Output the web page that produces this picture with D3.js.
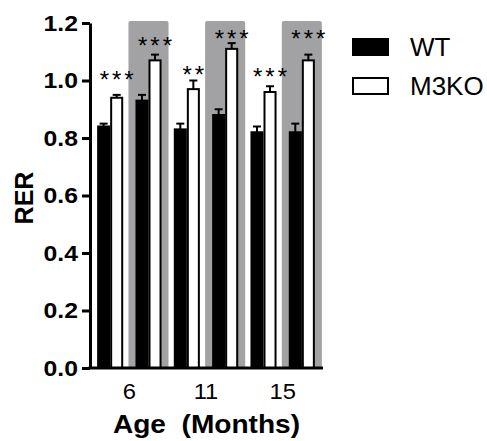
<!DOCTYPE html>
<html lang="en">
<head>
  <meta charset="UTF-8">
  <title>RER by age</title>
  <style>
    body { margin: 0; background: #fff; }
    svg text { font-family: Arial, "Liberation Sans", sans-serif; fill: #000; }
  </style>
</head>
<body>
  <svg id="chart" width="487" height="441"></svg>

  <script src="https://d3js.org/d3.v7.min.js"></script>
  <script>
    const ages = ["6", "11", "15"];
    const phases = ["light", "dark"];          // dark phase = grey shaded pair
    const groups = ["WT", "M3KO"];

    // one value per age x phase, in order 6L, 6D, 11L, 11D, 15L, 15D
    const wtMean   = [0.84, 0.93, 0.83, 0.88, 0.82, 0.82];
    const wtErr    = [0.01, 0.02, 0.02, 0.02, 0.02, 0.03];
    const koMean   = [0.94, 1.07, 0.97, 1.11, 0.96, 1.07];
    const koErr    = [0.01, 0.02, 0.03, 0.02, 0.02, 0.02];
    const sigLabel = ["***", "***", "**", "***", "***", "***"];
    const sigLevel = [1.02, 1.14, 1.04, 1.165, 1.03, 1.165];

    const yTicks = [0, 0.2, 0.4, 0.6, 0.8, 1.0, 1.2];

    const svg = d3.select("#chart");
    const axisX = 90, right = 323;
    const stretch = 1.1;   // the original text is a bit wide

    const y = d3.scaleLinear().domain([0, 1.2]).range([368, 23]);
    const x0 = d3.scaleBand().domain(ages).range([91, 321]);
    const x1 = d3.scaleBand().domain(phases).range([0, x0.bandwidth()])
      .paddingInner(0.32).paddingOuter(0.16);
    const xg = d3.scaleBand().domain(groups).range([0, x1.bandwidth()]);

    const rows = [];
    ages.forEach((a, i) => {
      phases.forEach((p, j) => {
        const k = i * 2 + j;
        rows.push({ age: a, phase: p, wt: wtMean[k], wtE: wtErr[k], ko: koMean[k], koE: koErr[k],
                    sig: sigLabel[k], sigY: sigLevel[k] });
      });
    });
    const px = d => x0(d.age) + x1(d.phase);

    // grey shading behind dark-phase pairs
    svg.selectAll("rect.shade")
      .data(rows.filter(d => d.phase === "dark"))
      .enter().append("rect")
      .attr("class", "shade")
      .attr("x", d => px(d) - 7)
      .attr("y", y(1.2) - 2)
      .attr("width", x1.bandwidth() + 14)
      .attr("height", y(0) - y(1.2) + 2)
      .attr("rx", 2)
      .attr("fill", "#a2a2a5");

    // bars + error bars
    groups.forEach(g => {
      const key = g === "WT" ? "wt" : "ko";
      const ek = g === "WT" ? "wtE" : "koE";
      const bw = xg.bandwidth();

      svg.selectAll("line.eb-" + key)
        .data(rows).enter().append("line")
        .attr("x1", d => px(d) + xg(g) + bw / 2)
        .attr("x2", d => px(d) + xg(g) + bw / 2)
        .attr("y1", d => y(d[key]))
        .attr("y2", d => y(d[key] + d[ek]))
        .attr("stroke", "#000").attr("stroke-width", 2);
      svg.selectAll("line.cap-" + key)
        .data(rows).enter().append("line")
        .attr("x1", d => px(d) + xg(g) + bw / 2 - 4)
        .attr("x2", d => px(d) + xg(g) + bw / 2 + 4)
        .attr("y1", d => y(d[key] + d[ek]))
        .attr("y2", d => y(d[key] + d[ek]))
        .attr("stroke", "#000").attr("stroke-width", 2);

      svg.selectAll("rect.bar-" + key)
        .data(rows).enter().append("rect")
        .attr("x", d => px(d) + xg(g) + 1)
        .attr("y", d => y(d[key]))
        .attr("width", bw - 2)
        .attr("height", d => y(0) - y(d[key]))
        .attr("fill", g === "WT" ? "#000" : "#fff")
        .attr("stroke", "#000").attr("stroke-width", 2);
    });

    // significance stars over the M3KO bar
    svg.selectAll("text.sig")
      .data(rows).enter().append("text")
      .attr("x", d => px(d) + xg("M3KO") + xg.bandwidth() / 2 + 1.5)
      .attr("y", d => y(d.sigY) + 13.5)
      .attr("text-anchor", "middle")
      .attr("font-size", 24)
      .attr("letter-spacing", 3)
      .text(d => d.sig);

    // y axis
    const yAxis = svg.append("g")
      .attr("transform", `translate(${axisX},0)`)
      .call(d3.axisLeft(y).tickValues(yTicks).tickFormat(d3.format(".1f"))
        .tickSize(8).tickSizeOuter(0).tickPadding(3));
    yAxis.select(".domain").attr("stroke-width", 3).attr("stroke", "#000");
    yAxis.selectAll(".tick line").attr("stroke-width", 3).attr("stroke", "#000");
    yAxis.selectAll(".tick text")
      .attr("font-size", 22.5).attr("font-weight", "bold")
      .attr("font-family", "Arial, 'Liberation Sans', sans-serif")
      .attr("transform", `scale(${stretch},1)`);

    // x axis
    const xAxis = svg.append("g")
      .attr("transform", `translate(0,${y(0)})`)
      .call(d3.axisBottom(x0).tickSize(0).tickPadding(15));
    xAxis.select(".domain").remove();
    xAxis.selectAll(".tick text")
      .attr("font-size", 22)
      .attr("font-family", "Arial, 'Liberation Sans', sans-serif")
      .attr("transform", "scale(1.08,1)");
    svg.append("line")
      .attr("x1", axisX - 1.5).attr("x2", right)
      .attr("y1", y(0)).attr("y2", y(0))
      .attr("stroke", "#000").attr("stroke-width", 3);

    // axis titles
    svg.append("text")
      .attr("transform", `translate(206.5,433) scale(1.08,1)`)
      .attr("text-anchor", "middle")
      .attr("font-size", 26).attr("font-weight", "bold")
      .style("white-space", "pre")
      .text("Age  (Months)");
    svg.append("text")
      .attr("transform", "translate(33,198) rotate(-90)")
      .attr("text-anchor", "middle")
      .attr("font-size", 25).attr("font-weight", "bold")
      .text("RER");

    // legend
    const legend = svg.append("g").attr("transform", "translate(353,39)");
    groups.forEach((g, i) => {
      legend.append("rect")
        .attr("x", 0).attr("y", i * 39)
        .attr("width", 35).attr("height", 16)
        .attr("fill", g === "WT" ? "#000" : "#fff")
        .attr("stroke", "#000").attr("stroke-width", 2);
      legend.append("text")
        .attr("x", 57).attr("y", i * 39 + 17)
        .attr("font-size", 26)
        .text(g);
    });
  </script>
</body>
</html>
